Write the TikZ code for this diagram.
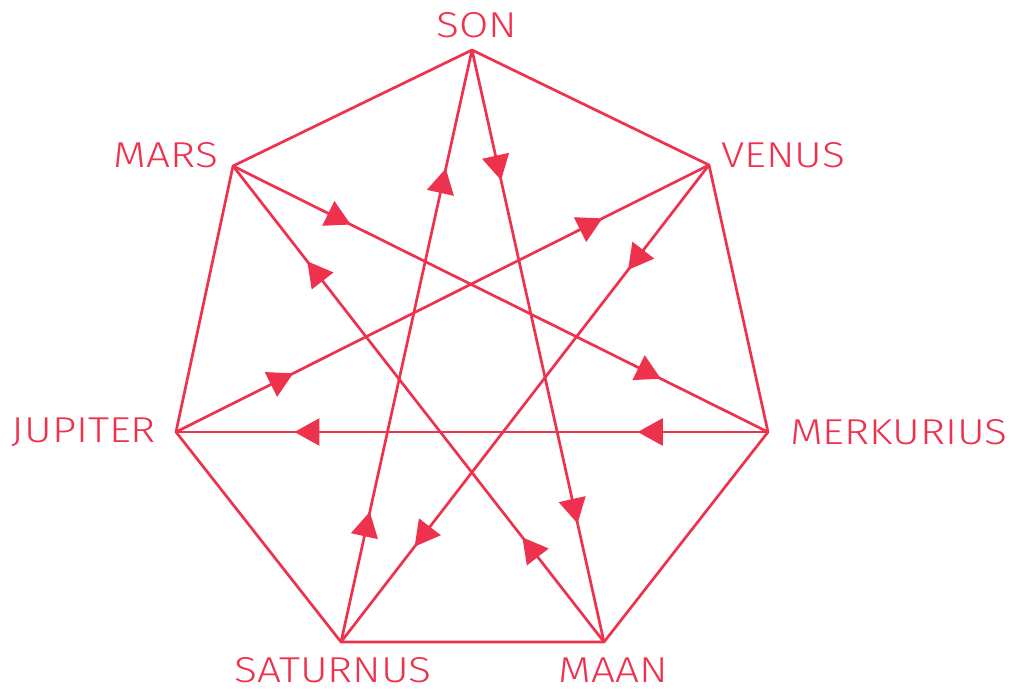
\documentclass[tikz,border=0pt]{standalone}
\usepackage{fontspec}
\setmainfont{Fira Sans}[UprightFont=* Light,FakeStretch=1.18]
\usetikzlibrary{decorations.markings,arrows.meta}
\definecolor{star}{RGB}{238,50,78}
\begin{document}
\begin{tikzpicture}[x=1pt,y=-1pt,
  edge/.style={draw=star,line width=2.7pt,line join=round},
  arr/.style={edge,postaction={decorate},decoration={markings,
    mark=at position 0.22 with {\arrow{Triangle[length=25pt,width=27pt]}},
    mark=at position 0.80 with {\arrow{Triangle[length=25pt,width=27pt]}}}},
  lbl/.style={text=star,font=\fontsize{36}{40}\selectfont,inner sep=0pt}]
\useasboundingbox (0,0) rectangle (1011,688);
\coordinate (son) at (472,50);
\coordinate (venus) at (709,165);
\coordinate (merk) at (768,432);
\coordinate (maan) at (604,642);
\coordinate (sat) at (341,642);
\coordinate (jup) at (176,432);
\coordinate (mars) at (233,166);
\draw[edge] (son) -- (venus) -- (merk) -- (maan) -- (sat) -- (jup) -- (mars) -- cycle;
\draw[arr] (son) -- (maan);
\draw[arr] (sat) -- (son);
\draw[arr] (mars) -- (merk);
\draw[arr] (merk) -- (jup);
\draw[arr] (jup) -- (venus);
\draw[arr] (venus) -- (sat);
\draw[arr] (maan) -- (mars);
\node[lbl] (tson) at (477,25) {SON};
\node[lbl] (tmars) at (166,155) {MARS};
\node[lbl] (tvenus) at (783,155) {VENUS};
\node[lbl] (tjup) at (84,432) {JUPITER};
\node[lbl] (tmerk) at (899,432) {MERKURIUS};
\node[lbl] (tsat) at (333,670) {SATURNUS};
\node[lbl] (tmaan) at (613,670) {MAAN};
\end{tikzpicture}
\end{document}
